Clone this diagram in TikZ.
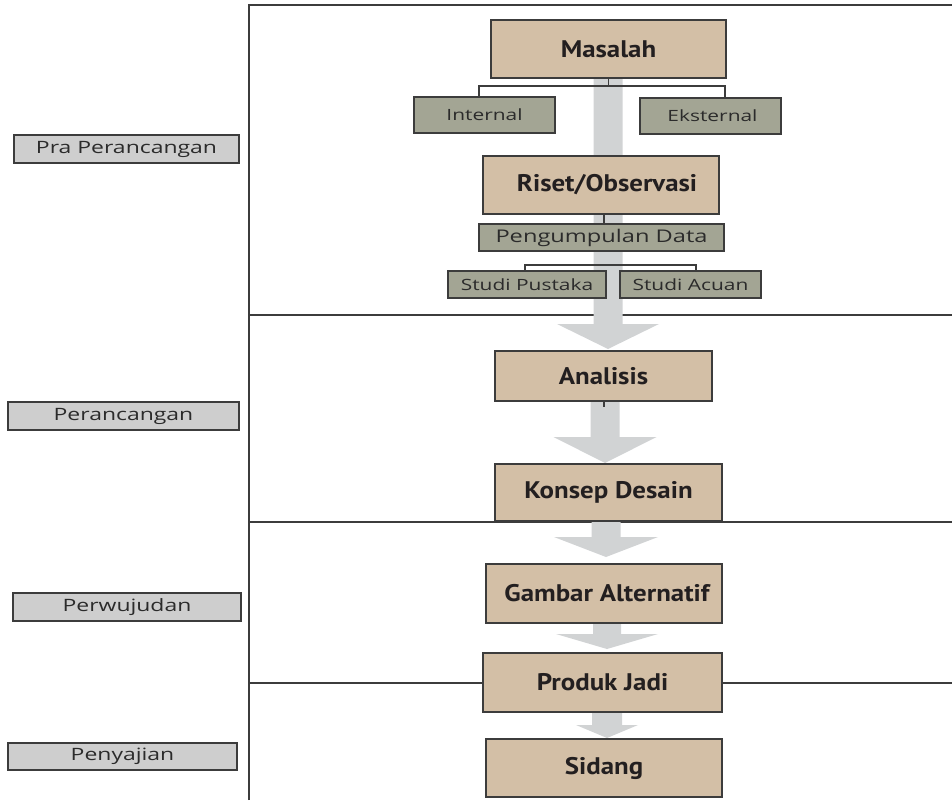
\documentclass[tikz,border=0pt]{standalone}
\usepackage{fontspec}
\usetikzlibrary{calc}
\newfontfamily\titlefont{PT Sans}[FakeStretch=1.12]
\newfontfamily\lblfont{Open Sans}[FakeStretch=1.35]
\definecolor{tanc}{HTML}{D3BFA6}
\definecolor{olivec}{HTML}{A3A594}
\definecolor{greyc}{HTML}{CECECE}
\definecolor{edgec}{HTML}{3C3C3C}
\definecolor{shaftc}{HTML}{D1D3D4}
\definecolor{inkc}{HTML}{231F20}
\definecolor{lblink}{HTML}{2B2B2B}
\newcommand\flowarrow[7]{%
  \fill[shaftc] let \p1=(#1.south), \p2=(#2.north) in
    (#3pt-#4pt,\y1) -- (#3pt-#4pt,\y2+#7pt+#6pt) -- (#3pt-#5pt,\y2+#7pt+#6pt)
    -- (#3pt,\y2+#7pt) -- (#3pt+#5pt,\y2+#7pt+#6pt) -- (#3pt+#4pt,\y2+#7pt+#6pt)
    -- (#3pt+#4pt,\y1) -- cycle;}
\tikzset{
  boxbase/.style={draw=edgec, line width=1.3pt, inner sep=0pt, outer sep=0pt, anchor=center},
  mainbox/.style={boxbase, fill=tanc, text=inkc, font=\titlefont\bfseries\fontsize{24}{26}\selectfont},
  subbox/.style={boxbase, fill=olivec, text=lblink, font=\lblfont\fontsize{15.5}{17}\selectfont},
  phasebox/.style={boxbase, fill=greyc, text=lblink, font=\lblfont\fontsize{17}{19}\selectfont},
  ghost/.style={inner sep=0pt, outer sep=0pt, anchor=center},
  frameline/.style={draw=edgec, line width=1.7pt},
  conn/.style={draw=edgec, line width=1.2pt}
}
\begin{document}
\begin{tikzpicture}[x=1pt,y=-1pt]
\useasboundingbox (0,0) rectangle (952,800);
% phase labels
\node[phasebox, minimum width=225pt, minimum height=28pt] (pra) at (126.5,149) {Pra Perancangan};
\node[phasebox, minimum width=231pt, minimum height=28pt] (per) at (123.5,416) {Perancangan};
\node[phasebox, minimum width=228pt, minimum height=28pt] (pwj) at (127,607) {Perwujudan};
\node[phasebox, minimum width=229pt, minimum height=27pt] (pny) at (122.5,756.5) {Penyajian};
% frame
\draw[frameline] (249,800) -- (249,5) -- (952,5);
\draw[frameline] (249,315) -- (952,315);
\draw[frameline] (249,522) -- (952,522);
\draw[frameline] (249,683) -- (952,683);
% placeholders for the arrows (same geometry as the boxes)
\node[ghost, minimum width=235pt, minimum height=58pt] (m0) at (608.5,49) {};
\node[ghost, minimum width=217pt, minimum height=50pt] (an0) at (603.5,376) {};
\node[ghost, minimum width=227pt, minimum height=57pt] (ko0) at (608.5,492.5) {};
\node[ghost, minimum width=236pt, minimum height=59pt] (ga0) at (604,593.5) {};
\node[ghost, minimum width=239pt, minimum height=59pt] (pr0) at (602.5,682.5) {};
\node[ghost, minimum width=236pt, minimum height=58pt] (si0) at (604,768) {};
% big arrows
\flowarrow{m0}{an0}{608}{14.5}{51}{25}{2}
\flowarrow{an0}{ko0}{605}{14.5}{51.5}{26}{1}
\flowarrow{ko0}{ga0}{606}{14.5}{52}{20}{7}
\flowarrow{ga0}{pr0}{607}{14}{51}{15}{4}
\flowarrow{pr0}{si0}{607}{15}{31}{13}{1}
% boxes
\node[mainbox, minimum width=235pt, minimum height=58pt] (m) at (608.5,49) {Masalah};
\node[subbox, minimum width=141pt, minimum height=36pt] (int) at (484.5,115) {Internal};
\node[subbox, minimum width=141pt, minimum height=36pt] (ext) at (710.5,116) {\hspace*{4pt}Eksternal};
\node[mainbox, minimum width=236pt, minimum height=58pt] (r) at (601,185) {\hspace*{12pt}Riset/Observasi};
\node[subbox, minimum width=245pt, minimum height=27pt, font=\lblfont\fontsize{17.5}{19}\selectfont] (pd) at (601.5,237.5) {Pengumpulan Data};
\node[subbox, minimum width=158pt, minimum height=27pt] (sp) at (527,284.5) {Studi Pustaka};
\node[subbox, minimum width=141pt, minimum height=27pt] (sa) at (690.5,284.5) {Studi Acuan};
\node[mainbox, minimum width=217pt, minimum height=50pt] (an) at (603.5,376) {Analisis};
\node[mainbox, minimum width=227pt, minimum height=57pt] (ko) at (608.5,492.5) {Konsep Desain};
\node[mainbox, minimum width=236pt, minimum height=59pt] (ga) at (604,593.5) {\hspace*{6pt}Gambar Alternatif};
\node[mainbox, minimum width=239pt, minimum height=59pt] (pr) at (602.5,682.5) {Produk Jadi};
\node[mainbox, minimum width=236pt, minimum height=58pt] (si) at (604,768) {Sidang};
% connectors
\draw[conn] (m.south) -- ++(0,8);
\draw[conn] ([xshift=-5.5pt]int.north) -- ++(0,-11) -| ([xshift=14.5pt]ext.north);
\draw[conn] ([xshift=3pt]r.south) -- ([xshift=3pt]r.south |- pd.north);
\draw[conn] ([xshift=-2pt]sp.north) -- ++(0,-6) -| ([xshift=5.5pt]sa.north);
\draw[conn] ([xshift=0.5pt]an.south) -- ++(0,6);
\end{tikzpicture}
\end{document}
